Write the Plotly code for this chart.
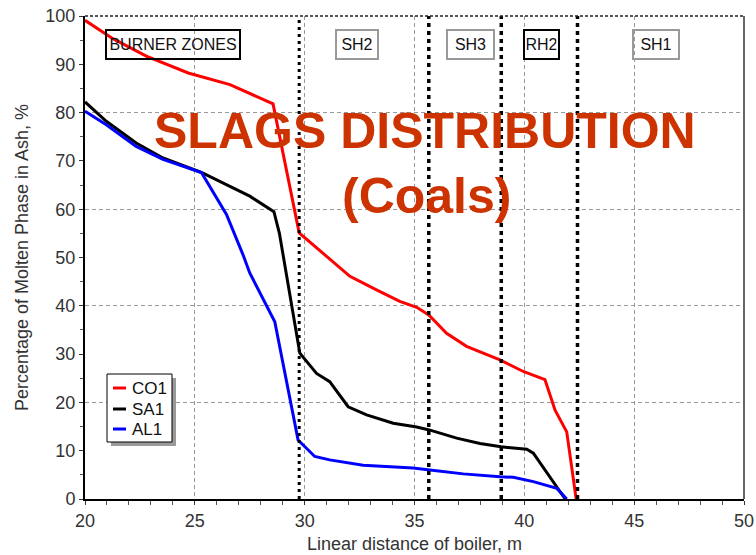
import plotly.graph_objects as go

# Molten phase share along the boiler path, one series per coal
series_names = ["CO1", "SA1", "AL1"]
series_colors = ["#ff0000", "#000000", "#0000ff"]

co1_x = [20, 21.27, 22.79, 24.7, 26.6, 27.65, 28.56, 29.75, 31.0, 32.06, 33.27, 34.33, 35.1,
         35.65, 36.46, 37.37, 38.89, 39.95, 40.94, 41.4, 41.93, 42.36]
co1_y = [99.1, 95.3, 91.7, 88.2, 85.8, 83.7, 81.8, 55.1, 50.2, 46.1, 43.3, 40.9, 39.7,
         38.1, 34.3, 31.6, 28.8, 26.4, 24.7, 18.4, 13.9, 0]

sa1_x = [20, 20.97, 22.33, 23.55, 25.3, 26.28, 27.5, 28.6, 28.85, 29.78, 30.54, 31.14, 31.75,
         31.98, 32.82, 34.03, 35.1, 35.67, 36.92, 37.98, 38.94, 40.11, 40.41, 41.86]
sa1_y = [82.2, 78.2, 73.7, 70.6, 67.6, 65.4, 62.7, 59.5, 55.0, 30.2, 26.0, 24.3, 20.5,
         19.1, 17.4, 15.7, 14.9, 14.3, 12.6, 11.5, 10.8, 10.3, 9.5, 0]

al1_x = [20, 20.97, 22.33, 23.55, 25.3, 26.44, 27.19, 27.5, 28.64, 29.7, 30.46, 31.14, 32.66,
         34.94, 35.7, 37.22, 38.89, 39.5, 40.41, 41.48, 41.93]
al1_y = [80.3, 77.5, 73.0, 70.3, 67.6, 58.9, 50.6, 46.8, 36.7, 12.2, 8.8, 8.1, 7.0,
         6.4, 6.0, 5.2, 4.6, 4.5, 3.6, 2.2, 0]

# Boiler section boundaries and section labels
zone_bounds = [29.75, 35.65, 38.95, 42.42]
zone_labels = ["BURNER ZONES", "SH2", "SH3", "RH2", "SH1"]
zone_centers = [24.01, 32.40, 37.53, 40.76, 45.98]
zone_border = ["#000000", "#999999", "#999999", "#000000", "#999999"]
zone_widths = [129, 37, 42, 30, 41]

x_ticks = [20, 25, 30, 35, 40, 45, 50]
y_ticks = [0, 10, 20, 30, 40, 50, 60, 70, 80, 90, 100]

W, H = 756, 555
L, R, T, B = 85, 12, 16, 56
FONT = "Liberation Sans, Arial, sans-serif"


def px(xp):
    return (xp - L) / (W - L - R)


def py(yp):
    return (H - B - yp) / (H - T - B)


fig = go.Figure()

for xs, ys, name, col in zip([co1_x, sa1_x, al1_x], [co1_y, sa1_y, al1_y],
                             series_names, series_colors):
    fig.add_trace(go.Scatter(x=xs, y=ys, mode="lines", name=name,
                             line=dict(color=col, width=3), showlegend=False))

# invisible trace on a second y axis to carry the coarser horizontal grid
fig.add_trace(go.Scatter(x=[20], y=[0], yaxis="y2", mode="markers",
                         marker=dict(opacity=0), showlegend=False, hoverinfo="skip"))

shapes = []
for i, xb in enumerate(zone_bounds):
    shapes.append(dict(type="line", xref="x", yref="y", x0=xb, x1=xb, y0=0, y1=100,
                       line=dict(color="black", width=3 if i == 0 else 3.5,
                                 dash="3px,4px" if i == 0 else "4px,4px")))

# frame: dashed top, grey right edge
shapes.append(dict(type="line", xref="paper", yref="paper", x0=0, x1=1, y0=1, y1=1,
                   line=dict(color="#222222", width=1.5, dash="3px,2px")))
shapes.append(dict(type="line", xref="paper", yref="paper", x0=1, x1=1, y0=0, y1=1,
                   line=dict(color="#666666", width=2)))

# legend box with drop shadow
shapes.append(dict(type="rect", xref="paper", yref="paper",
                   x0=px(111), x1=px(176), y0=py(446), y1=py(378),
                   fillcolor="#9a9a9a", line=dict(width=0), layer="above"))
shapes.append(dict(type="rect", xref="paper", yref="paper",
                   x0=px(107), x1=px(172), y0=py(442), y1=py(374),
                   fillcolor="white", line=dict(color="black", width=1), layer="above"))

annotations = []
legend_rows = [388, 409, 429]
for name, col, row in zip(series_names, series_colors, legend_rows):
    shapes.append(dict(type="line", xref="paper", yref="paper",
                       x0=px(113), x1=px(126), y0=py(row), y1=py(row),
                       line=dict(color=col, width=3), layer="above"))
    annotations.append(dict(xref="paper", yref="paper", x=px(130), y=py(row),
                            xanchor="left", yanchor="middle", showarrow=False,
                            text=name, font=dict(family=FONT, size=17, color="#111111")))

for lab, xc, bc, w in zip(zone_labels, zone_centers, zone_border, zone_widths):
    annotations.append(dict(xref="x", yref="y", x=xc, y=94.0, text=lab, showarrow=False,
                            xanchor="center", yanchor="middle", width=w, height=24,
                            borderwidth=2, bordercolor=bc, borderpad=1.5,
                            font=dict(family=FONT, size=16, color="#111111")))

annotations.append(dict(xref="paper", yref="paper", x=px(425), y=py(131),
                        text="<b>SLAGS DISTRIBUTION</b>", showarrow=False,
                        xanchor="center", yanchor="middle",
                        font=dict(family=FONT, size=50, color="#cc3300")))
annotations.append(dict(xref="paper", yref="paper", x=px(426), y=py(196),
                        text="<b>(Coals)</b>", showarrow=False,
                        xanchor="center", yanchor="middle",
                        font=dict(family=FONT, size=50, color="#cc3300")))

fig.update_layout(
    width=W, height=H,
    margin=dict(l=L, r=R, t=T, b=B, autoexpand=False),
    paper_bgcolor="white", plot_bgcolor="white",
    font=dict(family=FONT, size=18, color="#333333"),
    shapes=shapes, annotations=annotations,
    xaxis=dict(range=[20, 50], tickvals=x_ticks, ticks="outside", ticklen=4,
               tickcolor="#333333", showline=True, linecolor="black", linewidth=2,
               showgrid=True, gridcolor="#999999", griddash="4px,3px", gridwidth=1,
               minor=dict(dtick=1, ticks="outside", ticklen=4, tickcolor="#555555"),
               zeroline=False, automargin=False,
               title=dict(text="Linear distance of boiler, m", standoff=8,
                          font=dict(size=18, color="#333333")),
               tickfont=dict(size=18, color="#333333")),
    yaxis=dict(range=[0, 100], tickvals=y_ticks, ticks="outside", ticklen=4,
               tickcolor="#333333", showline=True, linecolor="black", linewidth=2,
               showgrid=False, zeroline=False, automargin=False,
               minor=dict(dtick=5, ticks="outside", ticklen=3, tickcolor="#555555"),
               title=dict(text="Percentage of Molten Phase in Ash, %", standoff=12,
                          font=dict(size=18, color="#333333")),
               tickfont=dict(size=18, color="#333333")),
    yaxis2=dict(range=[0, 100], overlaying="y", side="right", dtick=20,
                showticklabels=False, ticks="", showgrid=True, gridcolor="#999999",
                griddash="4px,3px", gridwidth=1, zeroline=False, showline=False,
                automargin=False),
)

fig.write_html("out.html")
